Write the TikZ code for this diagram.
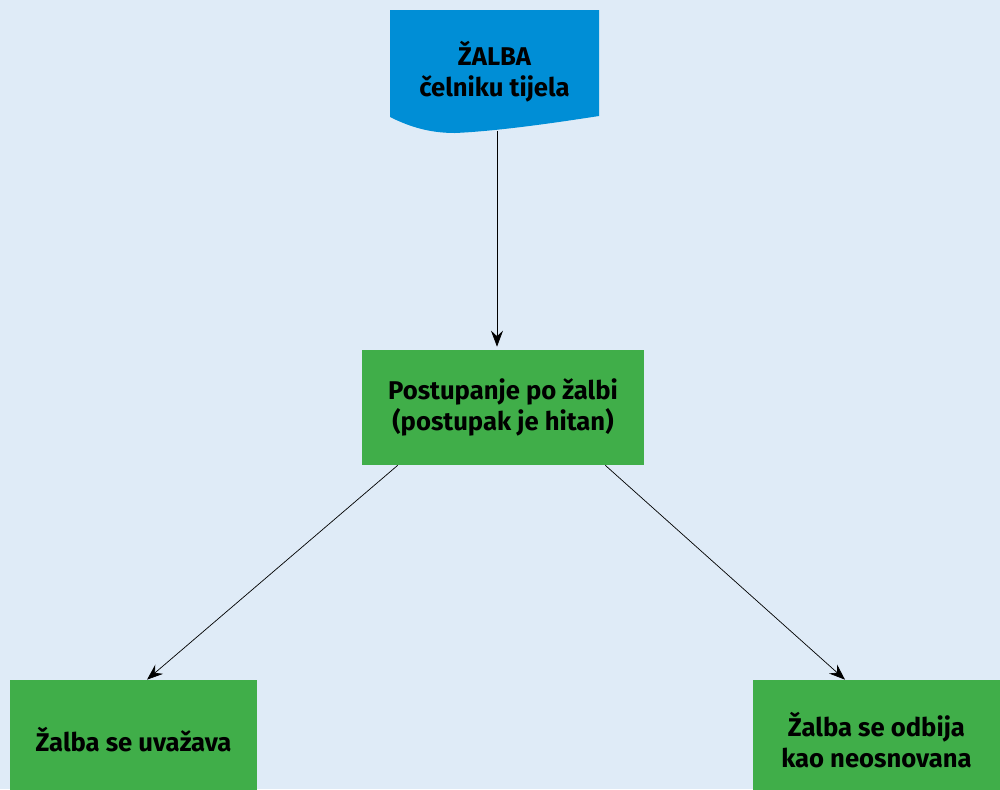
\documentclass[tikz,border=0pt]{standalone}
\usepackage{fontspec}
\setmainfont{Fira Sans}
\usepackage{tikz}
\usetikzlibrary{arrows.meta}
\usetikzlibrary{shapes,positioning,calc}
\definecolor{bgblue}{RGB}{223,235,247}
\definecolor{docblue}{RGB}{0,142,214}
\definecolor{boxgreen}{RGB}{64,174,73}
\tikzset{
  box/.style={fill=boxgreen, align=center, inner sep=0pt,
    font=\fontsize{14.6}{17.8}\selectfont\bfseries},
  wide/.style={minimum width=4.94cm, minimum height=2.4cm}
}

\begin{document}
\begin{tikzpicture}[>={Stealth[length=3.2mm,width=2.4mm,inset=1.1mm]}, x=0.02cm, y=-0.02cm]
			\useasboundingbox (0,0) rectangle (1000,789);
			\fill[bgblue] (0,0) rectangle (1000,789);
			\clip (0,0) rectangle (1000,789);
			\fill[docblue] (390,10) -- (599,10) -- (599,116)
			  .. controls (560,122) and (500,131) .. (455,133)
			  .. controls (430,133) and (410,127) .. (390,117) -- cycle;
			\node[box, fill=none] (zalba) at (494.5,72) {ŽALBA\\čelniku tijela};
			\coordinate (zalba-dno) at (497,131);
			\node[box, minimum width=5.64cm, minimum height=2.3cm] (postupanje) at (503,407.5) {Postupanje po žalbi\\(postupak je hitan)};
			\node[box, wide] (uvazava) at (133.5,740) {Žalba se uvažava};
			\node[box, wide] (odbija) at (876.5,740) {Žalba se odbija\\kao neosnovana};
			\draw[->, shorten >=0.6mm] (zalba-dno) -- (postupanje.north -| zalba-dno);
			\draw[->] ([xshift=0.72cm]postupanje.south west) -- ([xshift=0.27cm]uvazava.north);
			\draw[->] ([xshift=-0.78cm]postupanje.south east) -- ([xshift=-0.63cm]odbija.north);
\end{tikzpicture}
\end{document}
